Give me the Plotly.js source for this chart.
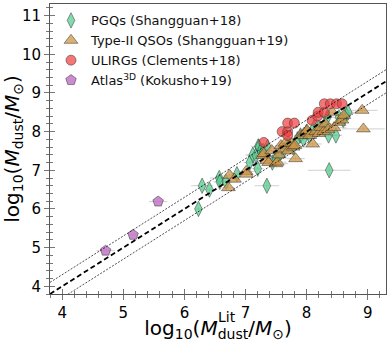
<!DOCTYPE html>
<html>
<head>
<meta charset="utf-8">
<script src="https://cdn.plot.ly/plotly-3.0.1.min.js"></script>
<style>
  html, body { margin: 0; padding: 0; background: #fff; }
  #chart { width: 390px; height: 342px; }
</style>
</head>
<body>
<div id="chart"></div>
<script>
// PGQs (Shangguan+18)
const pgqX    = [6.23, 6.29, 6.41, 6.57, 6.58, 6.68, 6.86, 7.07, 7.12, 7.17, 7.20, 7.21, 7.22, 7.25, 7.29, 7.35, 7.36, 7.44, 7.50, 7.55, 7.62, 7.70, 7.78, 7.85, 7.90, 7.95, 8.00, 8.05, 8.12, 8.20, 8.30, 8.34, 8.36, 8.37, 8.48, 8.53, 8.60, 8.64, 8.68];
const pgqY    = [6.00, 6.60, 6.50, 6.80, 6.70, 6.70, 6.90, 7.20, 7.40, 7.38, 7.04, 7.62, 7.60, 7.50, 7.50, 6.60, 7.60, 7.20, 7.30, 7.40, 7.50, 7.70, 7.60, 7.80, 7.90, 7.80, 8.00, 7.90, 8.10, 8.10, 8.20, 8.37, 7.90, 7.00, 7.90, 8.37, 8.30, 8.46, 8.50];
const pgqXerr = [0.05, 0.18, 0.10, 0.15, 0.10, 0.10, 0.10, 0.10, 0.12, 0.15, 0.10, 0.12, 0.10, 0.10, 0.10, 0.20, 0.15, 0.10, 0.10, 0.10, 0.15, 0.10, 0.10, 0.10, 0.10, 0.10, 0.10, 0.10, 0.12, 0.10, 0.10, 0.10, 0.10, 0.35, 0.10, 0.10, 0.10, 0.10, 0.10];
const pgqYerr = [0.05, 0.10, 0.05, 0.10, 0.05, 0.05, 0.05, 0.05, 0.05, 0.10, 0.05, 0.10, 0.05, 0.05, 0.05, 0.15, 0.10, 0.05, 0.05, 0.05, 0.05, 0.05, 0.05, 0.05, 0.05, 0.05, 0.05, 0.05, 0.05, 0.05, 0.05, 0.05, 0.05, 0.15, 0.05, 0.05, 0.05, 0.05, 0.05];

// Type-II QSOs (Shangguan+19)
const qsoX    = [6.72, 6.74, 6.82, 7.01, 7.02, 7.28, 7.30, 7.35, 7.38, 7.43, 7.50, 7.52, 7.55, 7.58, 7.62, 7.65, 7.70, 7.75, 7.78, 7.81, 7.82, 7.90, 7.96, 8.00, 8.01, 8.05, 8.10, 8.15, 8.20, 8.23, 8.28, 8.31, 8.35, 8.42, 8.45, 8.53, 8.58, 8.61, 8.91, 8.93];
const qsoY    = [6.55, 6.87, 6.77, 6.97, 6.90, 7.38, 7.43, 7.25, 7.20, 7.51, 7.17, 7.21, 7.40, 7.64, 7.55, 7.70, 7.50, 7.70, 7.60, 7.64, 7.30, 7.90, 7.96, 8.00, 8.03, 7.90, 7.68, 8.00, 7.95, 8.11, 8.00, 8.20, 8.05, 8.50, 8.10, 8.24, 8.30, 8.42, 8.55, 8.07];
const qsoXerr = [0.10, 0.10, 0.10, 0.15, 0.10, 0.15, 0.10, 0.20, 0.15, 0.10, 0.20, 0.15, 0.10, 0.10, 0.15, 0.10, 0.10, 0.15, 0.20, 0.10, 0.15, 0.10, 0.10, 0.10, 0.10, 0.15, 0.15, 0.10, 0.10, 0.10, 0.15, 0.10, 0.10, 0.10, 0.20, 0.10, 0.10, 0.10, 0.25, 0.35];
const qsoYerr = [0.05, 0.05, 0.05, 0.10, 0.05, 0.05, 0.05, 0.10, 0.05, 0.05, 0.05, 0.10, 0.05, 0.05, 0.05, 0.05, 0.05, 0.05, 0.05, 0.05, 0.05, 0.05, 0.05, 0.05, 0.05, 0.05, 0.05, 0.05, 0.05, 0.05, 0.05, 0.05, 0.05, 0.05, 0.05, 0.05, 0.05, 0.05, 0.05, 0.05];

// ULIRGs (Clements+18)
const ulirgX = [7.30, 7.60, 7.69, 7.69, 7.80, 7.69, 8.09, 8.18, 8.19, 8.29, 8.29, 8.39, 8.49, 8.58];
const ulirgY = [7.72, 8.00, 8.00, 8.22, 8.22, 7.90, 8.29, 8.40, 8.50, 8.50, 8.72, 8.72, 8.72, 8.72];

// Atlas3D (Kokusho+19)
const atlasX    = [4.71, 5.16, 5.57];
const atlasY    = [4.92, 5.33, 6.19];
const atlasXerr = [0.15, 0.06, 0.15];

// one-to-one relation and +-0.3 dex
const lineX = [3.8, 9.3];
const lineY = lineX.map(v => v);
const upperY = lineX.map(v => v + 0.3);
const lowerY = lineX.map(v => v - 0.3);

const edge = { color: 'rgba(50,50,50,0.85)', width: 0.6 };
const errStyle = { color: 'rgba(150,150,150,0.45)', thickness: 1, width: 0 };

const traces = [
  {
    x: pgqX, y: pgqY, type: 'scatter', mode: 'markers',
    name: 'PGQs (Shangguan+18)',
    error_x: Object.assign({ type: 'data', array: pgqXerr }, errStyle),
    error_y: Object.assign({ type: 'data', array: pgqYerr }, errStyle),
    marker: { symbol: 'diamond-tall', size: 11, color: 'rgba(80,205,140,0.72)', line: edge },
  },
  {
    x: qsoX, y: qsoY, type: 'scatter', mode: 'markers',
    name: 'Type-II QSOs (Shangguan+19)',
    error_x: Object.assign({ type: 'data', array: qsoXerr }, errStyle),
    error_y: Object.assign({ type: 'data', array: qsoYerr }, errStyle),
    marker: { symbol: 'triangle-up', size: 12, color: 'rgba(205,150,70,0.75)', line: edge },
  },
  {
    x: ulirgX, y: ulirgY, type: 'scatter', mode: 'markers',
    name: 'ULIRGs (Clements+18)',
    marker: { symbol: 'circle', size: 10, color: 'rgba(240,60,60,0.7)', line: edge },
  },
  {
    x: atlasX, y: atlasY, type: 'scatter', mode: 'markers',
    name: 'Atlas<sup>3D</sup> (Kokusho+19)',
    error_x: Object.assign({ type: 'data', array: atlasXerr }, errStyle),
    marker: { symbol: 'pentagon', size: 11, color: 'rgba(190,110,195,0.8)', line: edge },
  },
  {
    x: lineX, y: lineY, type: 'scatter', mode: 'lines', showlegend: false,
    line: { color: 'black', width: 1.8, dash: '5px,3px' },
  },
  {
    x: lineX, y: upperY, type: 'scatter', mode: 'lines', showlegend: false,
    line: { color: 'black', width: 0.7, dash: '2px,1.5px' },
  },
  {
    x: lineX, y: lowerY, type: 'scatter', mode: 'lines', showlegend: false,
    line: { color: 'black', width: 0.7, dash: '2px,1.5px' },
  },
  // empty trace so the inside-tick axes get drawn
  { x: [], y: [], xaxis: 'x2', yaxis: 'y2', type: 'scatter', showlegend: false, hoverinfo: 'skip' },
];

const tickFont = { family: 'DejaVu Sans', size: 15, color: 'black' };

const layout = {
  width: 390,
  height: 342,
  margin: { l: 50, r: 4, t: 4, b: 48 },
  paper_bgcolor: 'white',
  plot_bgcolor: 'white',
  font: { family: 'DejaVu Sans', color: 'black' },
  showlegend: true,
  legend: {
    x: 0.003, y: 0.995, xanchor: 'left', yanchor: 'top',
    bgcolor: 'rgba(0,0,0,0)', borderwidth: 0,
    font: { family: 'DejaVu Sans', size: 13, color: '#111' },
    tracegroupgap: 0, itemwidth: 30,
  },
  xaxis: {
    range: [3.8, 9.3], dtick: 1, tick0: 0,
    showgrid: false, zeroline: false,
    showline: true, mirror: true, linecolor: '#555', linewidth: 1,
    ticks: 'outside', ticklen: 5, tickcolor: '#777', tickwidth: 1,
    minor: { dtick: 0.2, ticks: 'outside', ticklen: 3, tickcolor: '#777', showgrid: false },
    tickfont: tickFont,
    title: { text: 'log<sub>10</sub>(<i>M</i><sub>dust</sub>/<i>M</i><sub>⊙</sub>)', font: { family: 'DejaVu Sans', size: 20, color: 'black' }, standoff: 6 },
  },
  yaxis: {
    range: [3.8, 11.3], dtick: 1, tick0: 0,
    showgrid: false, zeroline: false,
    showline: true, mirror: true, linecolor: '#555', linewidth: 1,
    ticks: 'outside', ticklen: 5, tickcolor: '#777', tickwidth: 1,
    minor: { dtick: 0.2, ticks: 'outside', ticklen: 3, tickcolor: '#777', showgrid: false },
    tickfont: tickFont,
    title: { text: 'log<sub>10</sub>(<i>M</i><sub>dust</sub>/<i>M</i><sub>⊙</sub>)', font: { family: 'DejaVu Sans', size: 20, color: 'black' }, standoff: 4 },
  },
  xaxis2: {
    overlaying: 'x', anchor: 'y2', side: 'bottom',
    range: [3.8, 9.3], dtick: 1, tick0: 0,
    showgrid: false, zeroline: false, showline: false, showticklabels: false,
    ticks: 'inside', ticklen: 5, tickcolor: '#777', tickwidth: 1,
    minor: { dtick: 0.2, ticks: 'inside', ticklen: 3, tickcolor: '#777', showgrid: false },
  },
  yaxis2: {
    overlaying: 'y', anchor: 'x2', side: 'left',
    range: [3.8, 11.3], dtick: 1, tick0: 0,
    showgrid: false, zeroline: false, showline: false, showticklabels: false,
    ticks: 'inside', ticklen: 5, tickcolor: '#777', tickwidth: 1,
    minor: { dtick: 0.2, ticks: 'inside', ticklen: 3, tickcolor: '#777', showgrid: false },
  },
  // "Lit" superscript stacked above the "dust" subscript of the x title
  annotations: [{
    text: 'Lit', xref: 'paper', yref: 'paper', x: 0.527, y: -0.08,
    xanchor: 'center', yanchor: 'middle', showarrow: false,
    font: { family: 'DejaVu Sans', size: 14, color: 'black' },
  }],
};

Plotly.newPlot('chart', traces, layout, { staticPlot: true });
</script>
</body>
</html>
